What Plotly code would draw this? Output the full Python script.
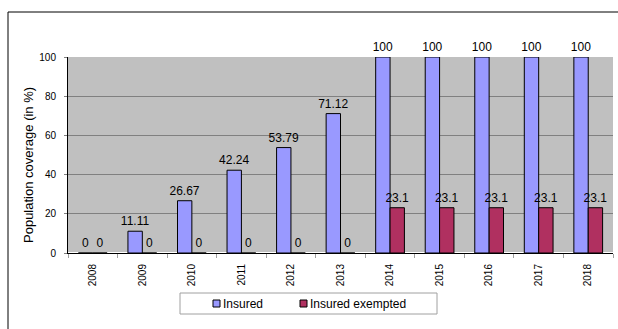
import plotly.graph_objects as go

years = ["2008", "2009", "2010", "2011", "2012", "2013", "2014", "2015", "2016", "2017", "2018"]
insured = [0, 11.11, 26.67, 42.24, 53.79, 71.12, 100, 100, 100, 100, 100]
exempted = [0, 0, 0, 0, 0, 0, 23.1, 23.1, 23.1, 23.1, 23.1]
series_names = ["Insured", "Insured exempted"]
series_colors = ["#9999FF", "#B03060"]

font = "Liberation Sans, Arial, sans-serif"

# plot area in pixels: x 68..613, y 57..253
L, R, T, B = 68, 5, 57, 76
W, H = 618, 329
pw, ph = W - L - R, H - T - B

def px(x):
    return (x - L) / pw

def py(y):
    return (H - B - y) / ph

fig = go.Figure()
for name, vals, col in zip(series_names, [insured, exempted], series_colors):
    fig.add_trace(go.Bar(
        x=years, y=vals, name=name,
        marker=dict(color=col, line=dict(color="black", width=1)),
        text=[f"{v:g}" for v in vals], textposition="outside",
        constraintext="none",
        textfont=dict(size=12, color="black", family=font), cliponaxis=False,
    ))

shapes = [dict(type="rect", xref="paper", yref="paper",
               x0=px(8), x1=px(622), y0=py(340), y1=py(12),
               line=dict(color="black", width=1), layer="below"),
          dict(type="rect", xref="paper", yref="paper",
               x0=px(180), x1=px(437), y0=py(314), y1=py(293),
               line=dict(color="#A0A0A0", width=1), fillcolor="white")]
annotations = [dict(text="Population coverage (in %)", textangle=-90, xref="paper", yref="paper",
                    x=px(28), y=py(165), xanchor="center", yanchor="middle", showarrow=False,
                    font=dict(size=13, family=font, color="black"))]
leg_x = [213, 300]
for lx, name, col in zip(leg_x, series_names, series_colors):
    shapes.append(dict(type="rect", xref="paper", yref="paper",
                       x0=px(lx), x1=px(lx + 7), y0=py(307), y1=py(300),
                       line=dict(color="black", width=1), fillcolor=col))
    annotations.append(dict(text=name, xref="paper", yref="paper", x=px(lx + 8), y=py(303.5),
                            xanchor="left", yanchor="middle", showarrow=False,
                            font=dict(size=12, family=font, color="black")))

fig.update_layout(
    width=W, height=H,
    margin=dict(l=L, r=R, t=T, b=B),
    paper_bgcolor="white", plot_bgcolor="#C0C0C0",
    barmode="group", bargap=0.42, bargroupgap=0,
    font=dict(family=font, size=10, color="black"),
    showlegend=False,
    xaxis=dict(type="category", tickangle=-90, tickfont=dict(size=10),
               ticks="outside", tickson="boundaries", ticklen=4, tickcolor="#A0A0A0",
               ticklabelstandoff=6,
               showline=True, linecolor="black", linewidth=1, showgrid=False),
    yaxis=dict(range=[0, 100], dtick=20, tickfont=dict(size=10),
               ticks="outside", ticklen=3, tickcolor="#808080",
               ticklabelstandoff=6,
               showline=True, linecolor="black", linewidth=1,
               showgrid=True, gridcolor="#808080", gridwidth=1),
    shapes=shapes,
    annotations=annotations,
)

fig.write_html("out.html")
